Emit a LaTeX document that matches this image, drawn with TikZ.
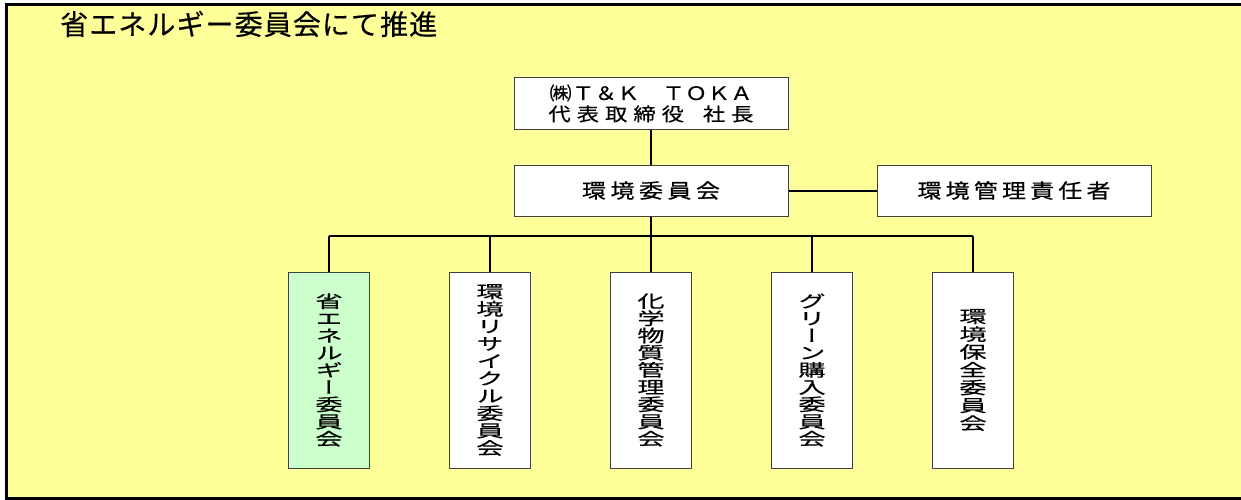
\documentclass[tikz,border=0pt]{standalone}
\usepackage{fontspec}
\newfontfamily\jp[FakeBold=0.4]{Noto Sans CJK JP}
\newfontfamily\jph[FakeStretch=1.2,FakeBold=0.5]{Noto Sans CJK JP}
\newfontfamily\jpv[FakeStretch=1.6,FakeBold=0.5,RawFeature={+vert}]{Noto Sans CJK JP}
\def\spreadchars#1{\spreadA#1\relax}
\def\spreadA#1{\ifx#1\relax\else#1\expandafter\spreadB\fi}
\def\spreadB#1{\ifx#1\relax\else\hfill#1\expandafter\spreadB\fi}
\newcommand\spr[2]{\makebox[#1][s]{\spreadchars{#2}}}
\newcommand\vtight[1]{\fontsize{17}{#1}\selectfont\setlength{\lineskiplimit}{-20pt}}
\definecolor{bgyellow}{HTML}{FFFF99}
\definecolor{lightgreen}{HTML}{CCFFCC}
\definecolor{boxline}{HTML}{404040}
\tikzset{
  hbox/.style={draw=boxline, line width=1pt, fill=white, minimum width=274pt, minimum height=51pt, inner sep=0pt, font=\jph\fontsize{20}{21}\selectfont, align=center},
  vbox/.style={draw=boxline, line width=1pt, fill=white, minimum width=81pt, minimum height=196pt, inner sep=0pt, font=\jpv\vtight{17.2pt}, align=center},
  conn/.style={draw=black, line width=2pt},
}
\begin{document}
\begin{tikzpicture}[x=1pt,y=-1pt]
\useasboundingbox (0,0) rectangle (1241,500);
\fill[bgyellow] (6,5) rectangle (1245,498);
\draw[line width=3pt] (1245,5) -- (6,5) -- (6,498) -- (1245,498);
\node[anchor=west, inner sep=0pt, font=\jp\fontsize{28}{30}\selectfont] (title) at (60,24) {\spr{377pt}{省エネルギー委員会にて推進}};
\node[hbox, font=\jph\fontsize{18.5}{21}\selectfont] (top) at (651,103.5) {\spr{203pt}{㈱Ｔ＆Ｋ　ＴＯＫＡ}\\[0pt]\makebox[205pt][s]{\spreadchars{代表取締役}\hfill\hspace{13pt}\spreadchars{社長}}};
\node[hbox] (mid) at (651,190.5) {\spr{138pt}{環境委員会}};
\node[hbox] (mgr) at (1014,190.5) {\spr{193pt}{環境管理責任者}};
\node[vbox, fill=lightgreen] (b1) at (329,370) {省\\エ\\ネ\\ル\\ギ\\ー\\委\\員\\会};
\node[vbox, font=\jpv\vtight{17.4pt}] (b2) at (490,370) {環\\境\\リ\\サ\\イ\\ク\\ル\\委\\員\\会};
\node[vbox] (b3) at (651,370) {化\\学\\物\\質\\管\\理\\委\\員\\会};
\node[vbox] (b4) at (812,370) {グ\\リ\\ー\\ン\\購\\入\\委\\員\\会};
\node[vbox, font=\jpv\vtight{17.8pt}] (b5) at (973,370) {環\\境\\保\\全\\委\\員\\会};
\coordinate (bus) at (651,236);
\draw[conn] (top) -- (mid);
\draw[conn] (mid) -- (mgr);
\draw[conn] (mid) -- (b3);
\draw[conn] (b1.north |- bus) -- (b5.north |- bus);
\foreach \b in {b1,b2,b4,b5} \draw[conn] (\b.north) -- (\b.north |- bus);
\end{tikzpicture}
\end{document}
